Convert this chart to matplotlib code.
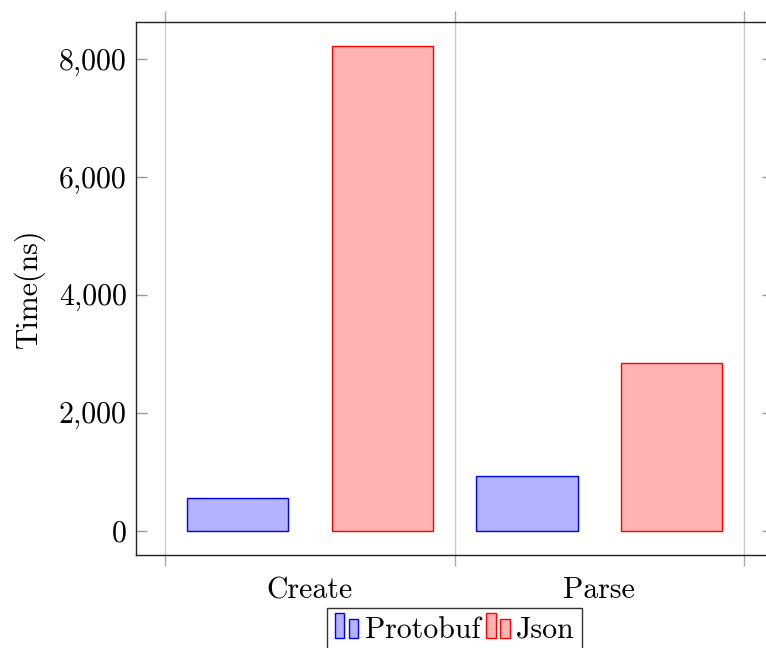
import matplotlib
matplotlib.use("Agg")
import matplotlib.pyplot as plt
from matplotlib.patches import Rectangle
from matplotlib.legend_handler import HandlerBase
from matplotlib.ticker import FuncFormatter

plt.rcParams.update({"font.family": "cmr10", "axes.formatter.use_mathtext": True,
                     "font.size": 21.5})

categories = ["Create", "Parse"]
protobuf = [549, 927]
json_ns = [8210, 2847]

series = [("Protobuf", protobuf, "#b3b3ff", "#0000ff", -0.25),
          ("Json", json_ns, "#ffb3b3", "#ff0000", 0.25)]


class BarPair(HandlerBase):
    # pgfplots-style ybar legend image: a tall and a short bar
    def create_artists(self, legend, orig, xd, yd, w, h, fs, trans):
        fc, ec = orig.get_facecolor(), orig.get_edgecolor()
        bw = 0.32 * fs
        r1 = Rectangle((0, 0), bw, 0.82 * fs, fc=fc, ec=ec, lw=1.0, transform=trans)
        r2 = Rectangle((bw + 0.15 * fs, 0), bw, 0.61 * fs, fc=fc, ec=ec, lw=1.0, transform=trans)
        return [r1, r2]


fig = plt.figure(figsize=(7.66, 6.48), dpi=100)
ax = fig.add_axes([136.3 / 766, (648 - 554.7) / 648, (773 - 136.3) / 766, (554.7 - 22.3) / 648])

x = list(range(len(categories)))
handles = []
for name, vals, fc, ec, off in series:
    b = ax.bar([i + off for i in x], vals, width=0.35, color=fc, edgecolor=ec, lw=1.0,
               label=name, zorder=3)
    handles.append(b.patches[0])

ax.set_xlim(-0.6, 1.6)
ax.set_ylim(-410.5, 8620.5)

# category labels at centres, grid/tick marks at boundaries
ax.set_xticks(x)
ax.set_xticklabels(categories)
ax.tick_params(axis="x", which="major", length=0, pad=16)
ax.set_xticks([-0.5, 0.5, 1.5], minor=True)
ax.tick_params(axis="x", which="minor", direction="out", length=8, width=1.0,
               color="#aaaaaa", top=True, bottom=True)
ax.grid(axis="x", which="minor", color="#cccccc", lw=1.0, zorder=0)

ax.set_yticks([0, 2000, 4000, 6000, 8000])
ax.yaxis.set_major_formatter(FuncFormatter(lambda v, p: f"{v:,.0f}"))
ax.tick_params(axis="y", direction="in", length=8, width=1.0, color="#999999",
               left=True, right=True, pad=7)
ax.set_ylabel("Time(ns)", labelpad=10)

for s in ax.spines.values():
    s.set_color("#222222")
    s.set_linewidth(1.0)

leg = ax.legend(handles, [s[0] for s in series], handler_map={Rectangle: BarPair()},
                loc="upper center", bbox_to_anchor=(0.5, -0.1), ncol=2, frameon=True,
                fancybox=False, edgecolor="#333333", framealpha=1, handlelength=0.8,
                handleheight=0.85, handletextpad=0.2, columnspacing=0.2, borderpad=0.25,
                borderaxespad=0)
leg.get_frame().set_linewidth(1.0)

fig.savefig("out.png", dpi=100)
